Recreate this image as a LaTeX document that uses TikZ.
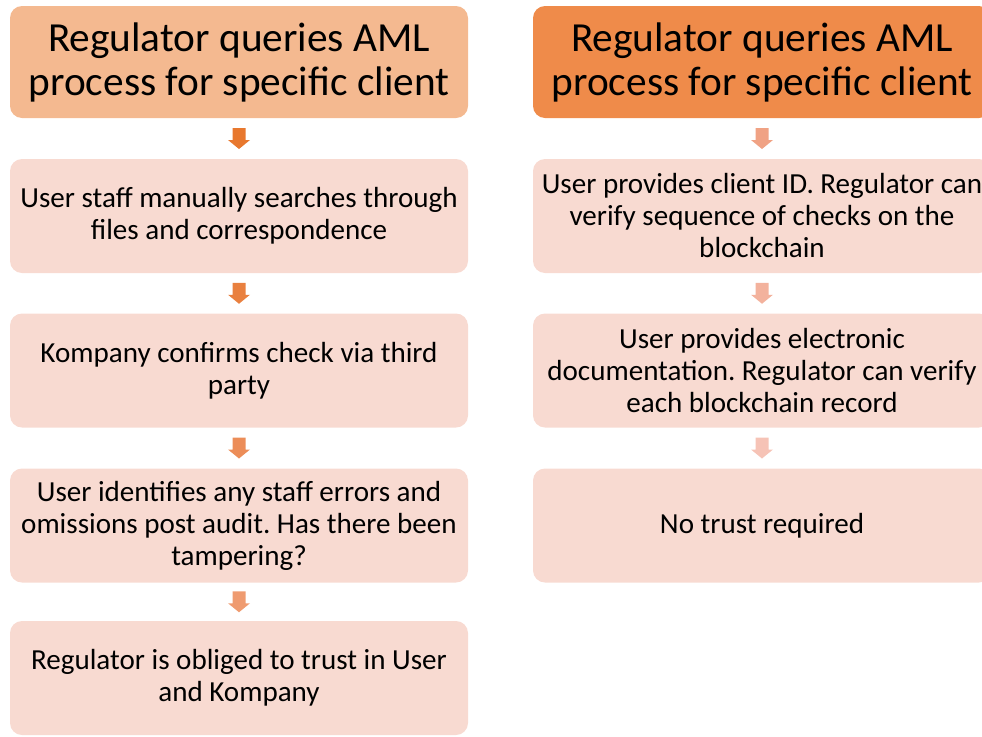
\documentclass[tikz,border=0pt]{standalone}
\usepackage{fontspec}
\setmainfont{Carlito}
\usetikzlibrary{calc}
\frenchspacing
\definecolor{titleA}{HTML}{F4B990}
\definecolor{titleB}{HTML}{EF8B4A}
\definecolor{stepfill}{HTML}{F8DAD1}
\definecolor{arA}{HTML}{E8782E}
\definecolor{arB}{HTML}{E9803F}
\definecolor{arC}{HTML}{EC8D58}
\definecolor{arD}{HTML}{EF9B70}
\definecolor{arE}{HTML}{F0A284}
\definecolor{arF}{HTML}{F3B29D}
\definecolor{arG}{HTML}{F6C3B6}
\tikzset{
  box/.style={rounded corners=9pt, minimum width=343.5pt, align=center, inner sep=0pt, text=black},
  titlebox/.style={box, minimum height=84pt, font=\fontsize{31}{33}\selectfont},
  stepbox/.style={box, fill=stepfill, minimum height=85.5pt, font=\fontsize{21.8}{24}\selectfont},
}
% filled block arrow pointing down, centred on the given coordinate
\newcommand\blockarrow[2]{%
  \fill[#2] ($(#1)+(-6.5,-10.5)$) -- ($(#1)+(6.5,-10.5)$) -- ($(#1)+(6.5,1.5)$)
    -- ($(#1)+(11,1.5)$) -- ($(#1)+(0,10.5)$) -- ($(#1)+(-11,1.5)$)
    -- ($(#1)+(-6.5,1.5)$) -- cycle;}
\begin{document}
\begin{tikzpicture}[x=0.75pt,y=-0.75pt]
\useasboundingbox (0,0) rectangle (982,736);
\clip (0,0) rectangle (982,736);
% left column
\node[titlebox, fill=titleA] (l1) at (239,62) {Regulator queries AML\\process for specific client};
\node[stepbox] (l2) at (239,216) {User staff manually searches through\\files and correspondence};
\node[stepbox] (l3) at (239,370.5) {Kompany confirms check via third\\party};
\node[stepbox] (l4) at (239,525.5) {User identifies any staff errors and\\omissions post audit. Has there been\\tampering?};
\node[stepbox] (l5) at (239,678) {Regulator is obliged to trust in User\\and Kompany};
% right column
\node[titlebox, fill=titleB] (r1) at (762,62) {Regulator queries AML\\process for specific client};
\node[stepbox] (r2) at (762,216) {User provides client ID. Regulator can\\verify sequence of checks on the\\blockchain};
\node[stepbox] (r3) at (762,370.5) {User provides electronic\\documentation. Regulator can verify\\each blockchain record};
\node[stepbox] (r4) at (762,525.5) {No trust required};
% arrows between steps
\coordinate (la1) at ($(l1.south)!0.5!(l2.north)$);
\coordinate (la2) at ($(l2.south)!0.5!(l3.north)$);
\coordinate (la3) at ($(l3.south)!0.5!(l4.north)$);
\coordinate (la4) at ($(l4.south)!0.5!(l5.north)$);
\coordinate (ra1) at ($(r1.south)!0.5!(r2.north)$);
\coordinate (ra2) at ($(r2.south)!0.5!(r3.north)$);
\coordinate (ra3) at ($(r3.south)!0.5!(r4.north)$);
\blockarrow{la1}{arA}
\blockarrow{la2}{arB}
\blockarrow{la3}{arC}
\blockarrow{la4}{arD}
\blockarrow{ra1}{arE}
\blockarrow{ra2}{arF}
\blockarrow{ra3}{arG}
\end{tikzpicture}
\end{document}
